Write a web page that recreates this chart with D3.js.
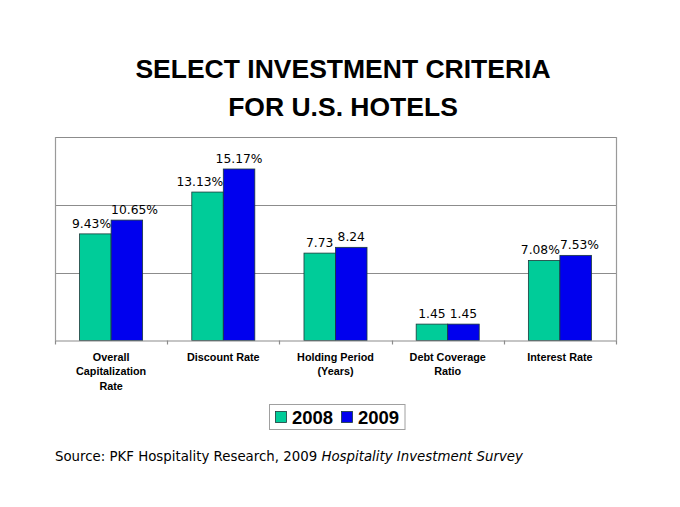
<!DOCTYPE html>
<html><head><meta charset="utf-8">
<script src="https://cdn.jsdelivr.net/npm/d3@7"></script>
<style>html,body{margin:0;padding:0;background:#fff;}svg{display:block;}</style>
</head><body>
<svg id="c" width="680" height="507"></svg>
<script>
const categories = [["Overall","Capitalization","Rate"],["Discount Rate"],["Holding Period","(Years)"],["Debt Coverage","Ratio"],["Interest Rate"]];
const series = ["2008","2009"];
const values2008 = [9.43, 13.13, 7.73, 1.45, 7.08];
const values2009 = [10.65, 15.17, 8.24, 1.45, 7.53];
const labels2008 = ["9.43%","13.13%","7.73","1.45","7.08%"];
const labels2009 = ["10.65%","15.17%","8.24","1.45","7.53%"];
const gridTicks = [6, 12, 18];
const colors = ["#00CC99", "#0000EE"];

const svg = d3.select("#c");
const m = {left:55, right:616, top:137, bottom:340.5};
const x0 = d3.scaleBand().domain(d3.range(categories.length)).range([m.left, m.right]).padding(0);
const x1 = d3.scaleBand().domain(series).range([0, x0.bandwidth()]).paddingInner(0).paddingOuter(0.78);
const y = d3.scaleLinear().domain([0, 18]).range([m.bottom, m.top]);

// title
const title = svg.append("text").attr("x", 343).attr("text-anchor","middle")
  .attr("font-family","'Liberation Sans', Arial, sans-serif").attr("font-weight","bold").attr("font-size",26.5).attr("fill","#000");
title.append("tspan").attr("x",343).attr("y",77.5).text("SELECT INVESTMENT CRITERIA");
title.append("tspan").attr("x",343).attr("y",116).text("FOR U.S. HOTELS");

// gridlines
svg.append("g").selectAll("line").data(gridTicks).join("line")
  .attr("x1", m.left).attr("x2", m.right)
  .attr("y1", d=>Math.round(y(d))+0.5).attr("y2", d=>Math.round(y(d))+0.5)
  .attr("stroke","#8c8c8c").attr("stroke-width",1.2);
svg.append("line").attr("x1",m.right+0.5).attr("x2",m.right+0.5).attr("y1",m.top).attr("y2",m.bottom).attr("stroke","#9a9a9a").attr("stroke-width",1.2);
svg.append("line").attr("x1",m.left+0.5).attr("x2",m.left+0.5).attr("y1",m.top).attr("y2",m.bottom).attr("stroke","#9a9a9a").attr("stroke-width",1.2);

// bars
const data = categories.map((c,i)=>({i, vals:[values2008[i], values2009[i]], labs:[labels2008[i], labels2009[i]]}));
const groups = svg.append("g").selectAll("g").data(data).join("g").attr("transform", d=>`translate(${x0(d.i)},0)`);
groups.selectAll("rect").data(d=>series.map((s,k)=>({s,k,v:d.vals[k]}))).join("rect")
  .attr("x", d=>x1(d.s)).attr("width", x1.bandwidth())
  .attr("y", d=>y(d.v)).attr("height", d=>y(0)-y(d.v))
  .attr("fill", d=>colors[d.k]).attr("stroke","#1a3a3a").attr("stroke-width",0.8);
groups.each(function(d){
  const g = d3.select(this);
  const bw = x1.bandwidth();
  const t = series.map((s,k)=> g.append("text")
    .attr("x", x1(s)+bw/2).attr("y", y(d.vals[k])-6)
    .attr("text-anchor","middle").attr("font-family","'DejaVu Sans', Verdana, sans-serif").attr("font-size",12.3).attr("fill","#000")
    .text(d.labs[k]));
  // avoid overlapping the neighbouring taller bar / other label
  const b0 = t[0].node().getBBox();
  if (b0.width > bw && d.vals[1] > d.vals[0]) {
    t[0].attr("text-anchor","end").attr("x", x1(series[0])+bw);
  }
  const a = t[0].node().getBBox(), b = t[1].node().getBBox();
  const hov = a.x + a.width > b.x, vov = a.y < b.y + b.height && b.y < a.y + a.height;
  if (hov && vov) t[1].attr("text-anchor","start").attr("x", x1(series[1]));
});

// x axis
const xAxis = svg.append("g");
xAxis.append("line").attr("x1",m.left).attr("x2",m.right+1).attr("y1",m.bottom+0.5).attr("y2",m.bottom+0.5).attr("stroke","#8c8c8c").attr("stroke-width",1.2);
const bounds = d3.range(categories.length+1).map(i=> i<categories.length ? x0(i) : m.right);
xAxis.selectAll(".tk").data(bounds).join("line").attr("class","tk")
  .attr("x1",d=>Math.round(d)+0.5).attr("x2",d=>Math.round(d)+0.5).attr("y1",m.bottom).attr("y2",m.bottom+4)
  .attr("stroke","#8c8c8c").attr("stroke-width",1.2);
const cl = xAxis.selectAll(".cl").data(categories).join("text").attr("class","cl")
  .attr("text-anchor","middle").attr("font-family","'Liberation Sans', Arial, sans-serif").attr("font-weight","bold").attr("font-size",10.8).attr("fill","#000");
cl.each(function(lines,i){
  const t = d3.select(this);
  lines.forEach((ln,j)=>{
    t.append("tspan").attr("x", x0(i)+x0.bandwidth()/2).attr("y", 361+j*14.3).text(ln);
  });
});

// legend
const lg = svg.append("g");
lg.append("rect").attr("x",269.5).attr("y",404.5).attr("width",135.5).attr("height",25).attr("fill","#fff").attr("stroke","#a0a0a0").attr("stroke-width",1);
series.forEach((s,k)=>{
  const bx = [275.5, 341.5][k];
  lg.append("rect").attr("x",bx).attr("y",411.5).attr("width",11).attr("height",11).attr("fill",colors[k]).attr("stroke","#1a3a3a").attr("stroke-width",0.8);
  lg.append("text").attr("x",bx+16.5).attr("y",424.3).attr("font-family","'Liberation Sans', Arial, sans-serif").attr("font-weight","bold").attr("font-size",18.5).attr("fill","#000").text(s);
});

// source
const src = svg.append("text").attr("x",55).attr("y",461).attr("font-family","'DejaVu Sans', Verdana, sans-serif").attr("font-size",13.5).attr("fill","#000");
src.append("tspan").text("Source: PKF Hospitality Research, 2009 ");
src.append("tspan").attr("font-style","italic").text("Hospitality Investment Survey");
const w = src.node().getComputedTextLength();
src.attr("font-size", 13.5*468/w);
</script>
</body></html>
